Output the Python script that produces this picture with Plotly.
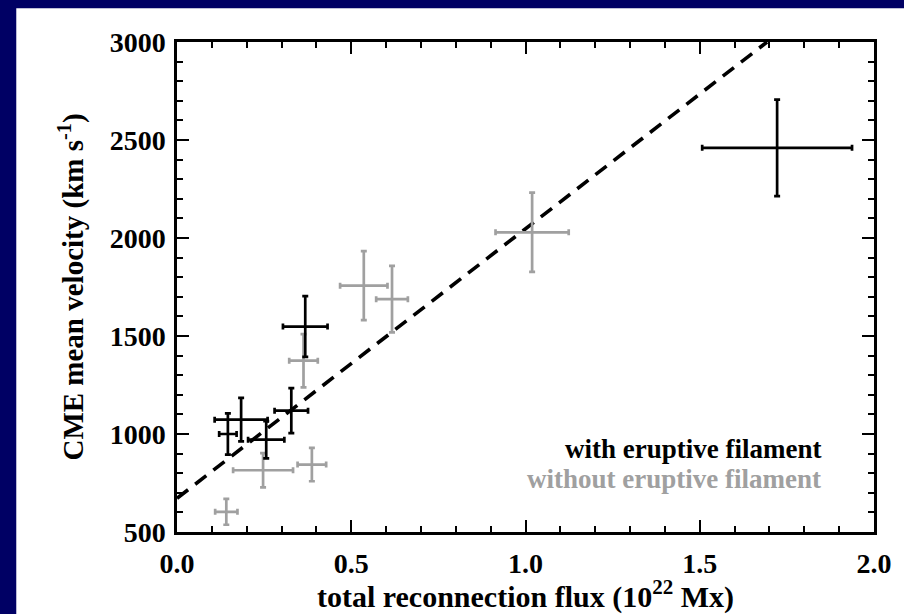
import numpy as np
import plotly.graph_objects as go

# with eruptive filament (black)
with_x = [0.368, 0.328, 0.184, 0.146, 0.256, 1.722]
with_xerr = [0.064, 0.048, 0.076, 0.025, 0.052, 0.215]
with_y = [1548, 1119, 1073, 1000, 971, 2460]
with_yerr = [155, 115, 111, 105, 95, 246]

# without eruptive filament (grey)
wo_x = [0.363, 0.247, 0.387, 0.1415, 0.536, 0.617, 1.019]
wo_xerr = [0.041, 0.086, 0.041, 0.032, 0.068, 0.0455, 0.105]
wo_y = [1374, 815, 844, 603, 1757, 1688, 2029]
wo_yerr = [136, 87, 85, 66, 176, 170, 202]

# fitted line
fit_intercept = 672
fit_slope = 1375
y_top = 3000

x_ticks = [0.0, 0.5, 1.0, 1.5, 2.0]
x_ticklabels = ["0.0", "0.5", "1.0", "1.5", "2.0"]
y_ticks = [500, 1000, 1500, 2000, 2500, 3000]
y_ticklabels = ["500", "1000", "1500", "2000", "2500", "3000"]

NAVY = "#000064"
GREY = "#a0a0a0"
FONT = "Liberation Serif"

fig = go.Figure()

line_x = np.array([0.0, (y_top - fit_intercept) / fit_slope])
fig.add_trace(go.Scatter(
    x=line_x, y=fit_intercept + fit_slope * line_x, mode="lines",
    line=dict(color="black", width=3.6, dash="14px,9px"),
    showlegend=False, hoverinfo="skip"))

fig.add_trace(go.Scatter(
    x=wo_x, y=wo_y, mode="markers", marker=dict(size=1, color=GREY),
    error_x=dict(type="data", array=wo_xerr, color=GREY, thickness=2.7, width=3),
    error_y=dict(type="data", array=wo_yerr, color=GREY, thickness=2.7, width=3),
    showlegend=False))

fig.add_trace(go.Scatter(
    x=with_x, y=with_y, mode="markers", marker=dict(size=1, color="black"),
    error_x=dict(type="data", array=with_xerr, color="black", thickness=2.7, width=3),
    error_y=dict(type="data", array=with_yerr, color="black", thickness=2.7, width=3),
    showlegend=False))

fig.add_annotation(x=1.855, y=925, xref="x", yref="y", xanchor="right", yanchor="middle",
                   text="<b>with eruptive filament</b>", showarrow=False,
                   font=dict(family=FONT, size=27, color="black"))
fig.add_annotation(x=1.855, y=772, xref="x", yref="y", xanchor="right", yanchor="middle",
                   text="<b>without eruptive filament</b>", showarrow=False,
                   font=dict(family=FONT, size=27, color=GREY))

# white panel on navy background
fig.add_shape(type="rect", xref="paper", yref="paper",
              x0=-0.2306, x1=1.2, y0=-0.4, y1=1.0689,
              fillcolor="white", line=dict(width=0), layer="below")

axis_common = dict(
    showgrid=False, zeroline=False, showline=True, linecolor="black", linewidth=2.5,
    mirror="allticks", ticks="inside", ticklen=12, tickwidth=2, tickcolor="black",
    tickfont=dict(family=FONT, size=28, color="black"), automargin=False,
)

fig.update_xaxes(
    range=[0, 2.0], tickmode="array", tickvals=x_ticks,
    ticktext=["<b>%s</b>" % t for t in x_ticklabels],
    minor=dict(dtick=0.1, ticks="inside", ticklen=6, tickwidth=2, tickcolor="black", showgrid=False),
    title=dict(text="<b>total reconnection flux (10<sup>22</sup> Mx)</b>",
               font=dict(family=FONT, size=30, color="black"), standoff=0),
    ticklabelstandoff=5,
    **axis_common)
fig.update_yaxes(
    range=[500, 3000], tickmode="array", tickvals=y_ticks,
    ticktext=["<b>%s</b>" % t for t in y_ticklabels],
    minor=dict(dtick=100, ticks="inside", ticklen=6, tickwidth=2, tickcolor="black", showgrid=False),
    title=dict(text="<b>CME mean velocity (km s<sup>-1</sup>)</b>",
               font=dict(family=FONT, size=29, color="black"), standoff=18),
    ticklabelstandoff=3,
    **axis_common)

fig.update_layout(
    width=904, height=614,
    margin=dict(l=177, r=30, t=42, b=82),
    paper_bgcolor=NAVY, plot_bgcolor="white",
    showlegend=False,
)

fig.write_html("out.html")
